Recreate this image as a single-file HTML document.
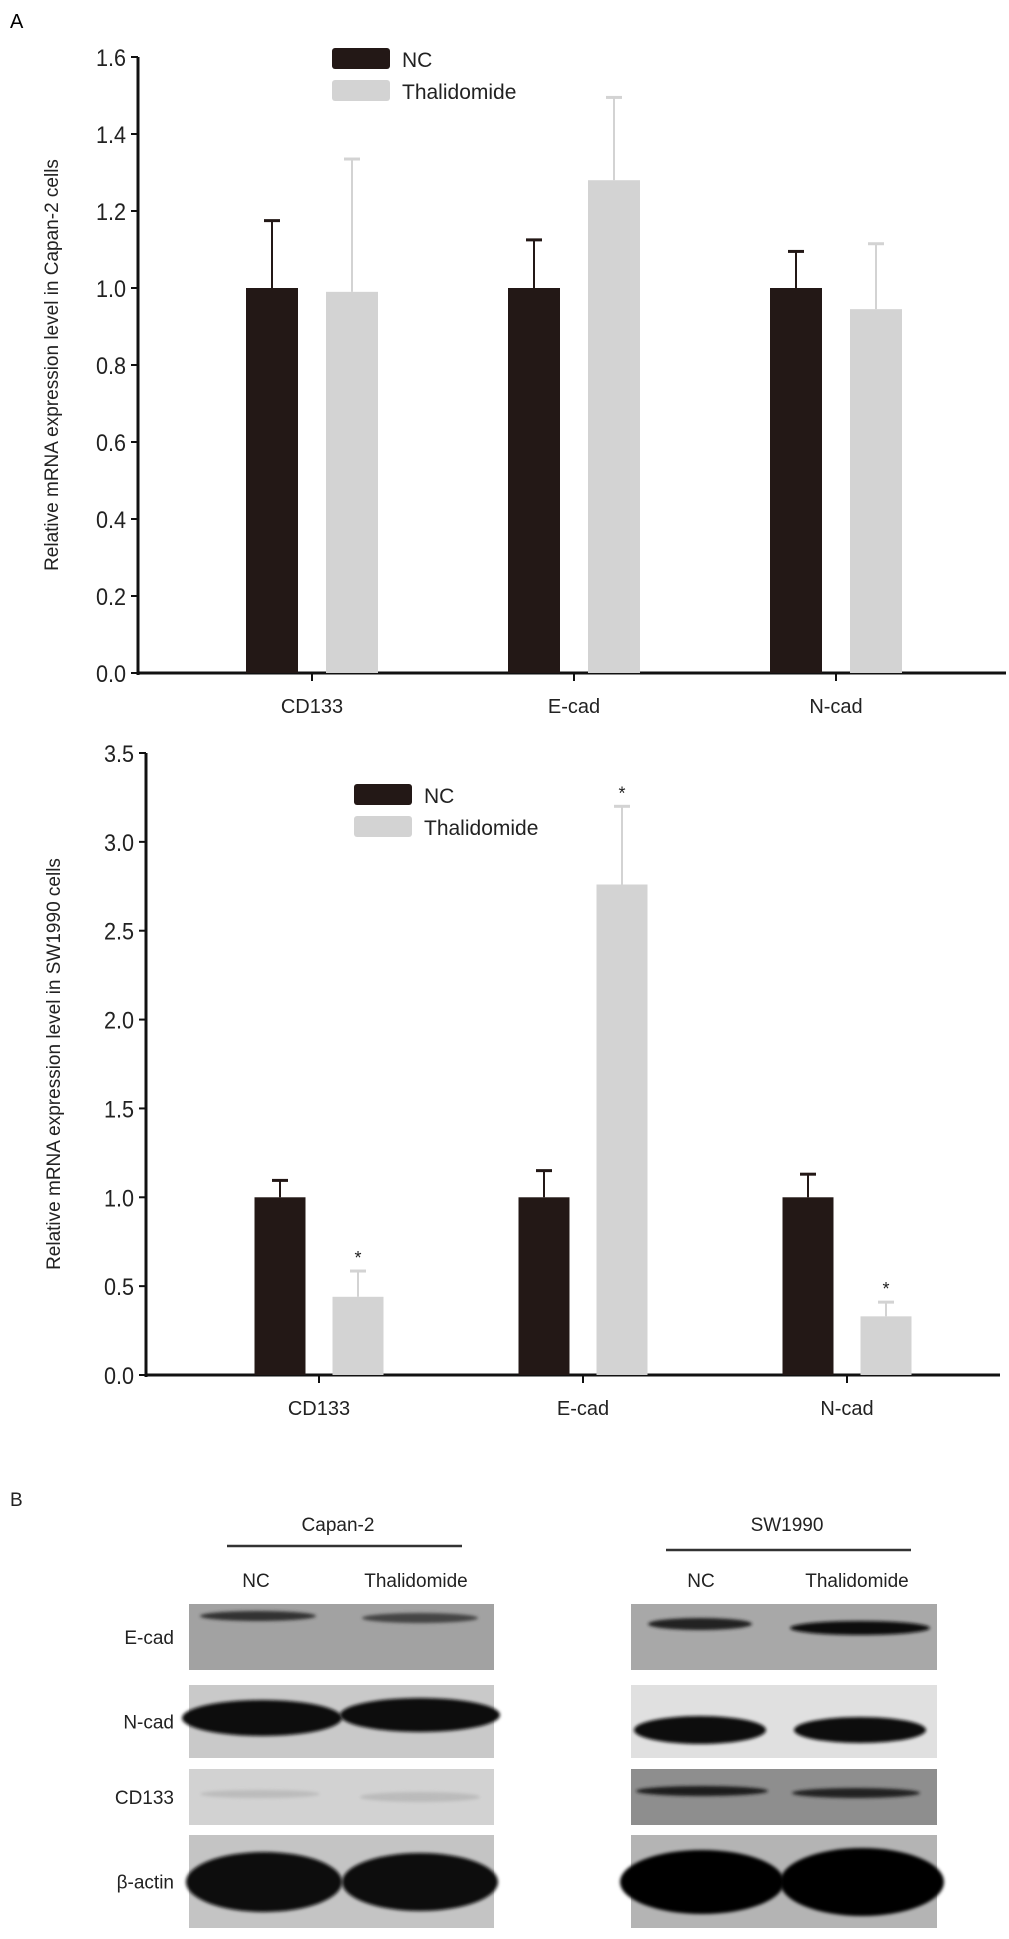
<!DOCTYPE html>
<html><head><meta charset="utf-8">
<style>
html,body{margin:0;padding:0;background:#fff;}
svg{display:block;font-family:"Liberation Sans",Arial,sans-serif;}
</style></head>
<body>
<svg id="fig" width="1009" height="1939" viewBox="0 0 1009 1939">
<defs>
<filter id="blur2" x="-20%" y="-50%" width="140%" height="200%"><feGaussianBlur stdDeviation="1.5"/></filter>
</defs>
<text x="10" y="28" font-size="20">A</text>
<g id="chart1"></g>
<g id="chart2"></g>
<g id="blots"></g>
</svg>
<script>
const NS="http://www.w3.org/2000/svg";
const categories=["CD133","E-cad","N-cad"];
const series=["NC","Thalidomide"];
const c1NC=[1.0,1.0,1.0];
const c1NCerr=[0.175,0.125,0.095];
const c1Thal=[0.99,1.28,0.945];
const c1Thalerr=[0.345,0.215,0.17];
const c1Ticks=["0.0","0.2","0.4","0.6","0.8","1.0","1.2","1.4","1.6"];
const c2NC=[1.0,1.0,1.0];
const c2NCerr=[0.095,0.15,0.13];
const c2Thal=[0.44,2.76,0.33];
const c2Thalerr=[0.145,0.44,0.08];
const c2Ticks=["0.0","0.5","1.0","1.5","2.0","2.5","3.0","3.5"];
const c2ThalStars=[true,true,true];

function mk(parent,tag,attrs){const e=document.createElementNS(NS,tag);for(const k in attrs)e.setAttribute(k,attrs[k]);parent.appendChild(e);return e;}

function drawChart(g,cfg){
  const y=v=>cfg.y0-(v/cfg.max)*(cfg.y0-cfg.yTop);
  let ax=mk(g,"line",{x1:cfg.ax,y1:cfg.yTop,x2:cfg.ax,y2:cfg.y0+2,stroke:"#111","stroke-width":3});
  
  
  let bx=mk(g,"line",{x1:cfg.ax,y1:cfg.y0,x2:cfg.xEnd,y2:cfg.y0,stroke:"#111","stroke-width":3});
  
  
  cfg.ticks.forEach(t=>{
    const v=parseFloat(t),yy=y(v);
    mk(g,"line",{x1:cfg.ax-7,y1:yy,x2:cfg.ax,y2:yy,stroke:"#111","stroke-width":2});
    const tx=mk(g,"text",{x:cfg.ax-12,y:yy+9,"font-size":24,"text-anchor":"end",fill:"#222",transform:`translate(${(cfg.ax-12)*0.1},0) scale(0.9,1)`});
    tx.textContent=t;
    
    
  });
  const yt=mk(g,"text",{x:0,y:0,"font-size":19,"text-anchor":"middle",fill:"#222",transform:`translate(${cfg.titleX},${(cfg.yTop+cfg.y0)/2}) rotate(-90)`});
  yt.textContent=cfg.title;
  
  
  categories.forEach((c,i)=>{
    const cx=cfg.centers[i];
    mk(g,"line",{x1:cx,y1:cfg.y0,x2:cx,y2:cfg.y0+8,stroke:"#111","stroke-width":2});
    const lt=mk(g,"text",{x:cx,y:cfg.y0+40,"font-size":20,"text-anchor":"middle",fill:"#222"});
    lt.textContent=c;
    
    
    [[cfg.nc,cfg.ncErr,"#231816",-1],[cfg.th,cfg.thErr,"#d3d3d3",1]].forEach(([vals,errs,col,s],k)=>{
      const bxc=cx+s*cfg.off, v=vals[i], top=y(v), et=y(v+errs[i]);
      const r=mk(g,"rect",{x:bxc-cfg.bw/2,y:top,width:cfg.bw,height:cfg.y0-top,fill:col});
      
      
      mk(g,"line",{x1:bxc,y1:top,x2:bxc,y2:et,stroke:col,"stroke-width":2});
      mk(g,"line",{x1:bxc-8,y1:et,x2:bxc+8,y2:et,stroke:col,"stroke-width":3});
      if(cfg.stars && k===1 && cfg.stars[i]){
        const st=mk(g,"text",{x:bxc,y:et-7,"font-size":18,"text-anchor":"middle",fill:"#222"});
        st.textContent="*";
        
        
      }
    });
  });
  series.forEach((s,k)=>{
    const yy=cfg.legY+k*32;
    const sw=mk(g,"rect",{x:cfg.legX,y:yy,width:58,height:21,rx:3,fill:k?"#d3d3d3":"#231816"});
    
    
    const lt=mk(g,"text",{x:cfg.legX+70,y:yy+19,"font-size":21,fill:"#222"});
    lt.textContent=s;
    
    
  });
}
drawChart(document.getElementById("chart1"),{ax:138,xEnd:1006,yTop:57,y0:673,max:1.6,ticks:c1Ticks,centers:[312,574,836],off:40,bw:52,
  nc:c1NC,ncErr:c1NCerr,th:c1Thal,thErr:c1Thalerr,title:"Relative mRNA expression level in Capan-2 cells",titleX:58,legX:332,legY:48});
drawChart(document.getElementById("chart2"),{ax:146,xEnd:1000,yTop:753,y0:1375,max:3.5,ticks:c2Ticks,centers:[319,583,847],off:39,bw:51,
  nc:c2NC,ncErr:c2NCerr,th:c2Thal,thErr:c2Thalerr,stars:c2ThalStars,title:"Relative mRNA expression level in SW1990 cells",titleX:60,legX:354,legY:784});

const b=document.getElementById("blots");
function txt(x,y,s,anchor,name,size){const t=mk(b,"text",{x:x,y:y,"font-size":size||19,"text-anchor":anchor||"middle",fill:"#222"});t.textContent=s;return t;}
txt(10,1506,"B","start","panel-b-label",19);
txt(338,1531,"Capan-2","middle","capan2-header");
mk(b,"line",{x1:227,y1:1546,x2:462,y2:1546,stroke:"#333","stroke-width":2.5});
txt(787,1531,"SW1990","middle","sw1990-header");
mk(b,"line",{x1:666,y1:1550,x2:911,y2:1550,stroke:"#333","stroke-width":2.5});
txt(256,1587,"NC","middle","lane-nc-label");
txt(416,1587,"Thalidomide","middle","lane-thalidomide-label");
txt(701,1587,"NC","middle","lane-nc-label");
txt(857,1587,"Thalidomide","middle","lane-thalidomide-label");
const rows=[["E-cad",1604,66],["N-cad",1685,73],["CD133",1769,56],["β-actin",1835,93]];
rows.forEach(r=>txt(174,r[1]+r[2]/2+7,r[0],"end","row-label-"+r[0].toLowerCase()));
const panels=[
 {x:189,w:305,bg:["#a2a2a2","#c9c9c9","#d2d2d2","#c4c4c4"],
  bands:[[[258,12,58,5,"#333"],[420,14,58,5,"#444"]],[[262,33,80,18,"#0e0e0e"],[420,30,80,17,"#111"]],[[260,25,60,4,"#bcbcbc"],[420,28,60,5,"#bbbbbb"]],[[264,47,78,30,"#080808"],[420,47,78,29,"#0a0a0a"]]]},
 {x:631,w:306,bg:["#a8a8a8","#e0e0e0","#8e8e8e","#b4b4b4"],
  bands:[[[700,20,52,6,"#222"],[860,24,70,7,"#111"]],[[700,45,66,14,"#0c0c0c"],[860,45,66,13,"#111"]],[[702,22,66,5,"#1a1a1a"],[856,24,64,5,"#222"]],[[702,47,82,32,"#050505"],[862,47,82,34,"#050505"]]]}
];
panels.forEach((p,pi)=>{
  rows.forEach((r,ri)=>{
    const rr=mk(b,"rect",{x:p.x,y:r[1],width:p.w,height:r[2],fill:p.bg[ri]});
    
    
    p.bands[ri].forEach(bd=>{
      mk(b,"ellipse",{cx:bd[0],cy:r[1]+bd[1],rx:bd[2],ry:bd[3],fill:bd[4],filter:"url(#blur2)"});
    });
  });
});
</script>
</body></html>
